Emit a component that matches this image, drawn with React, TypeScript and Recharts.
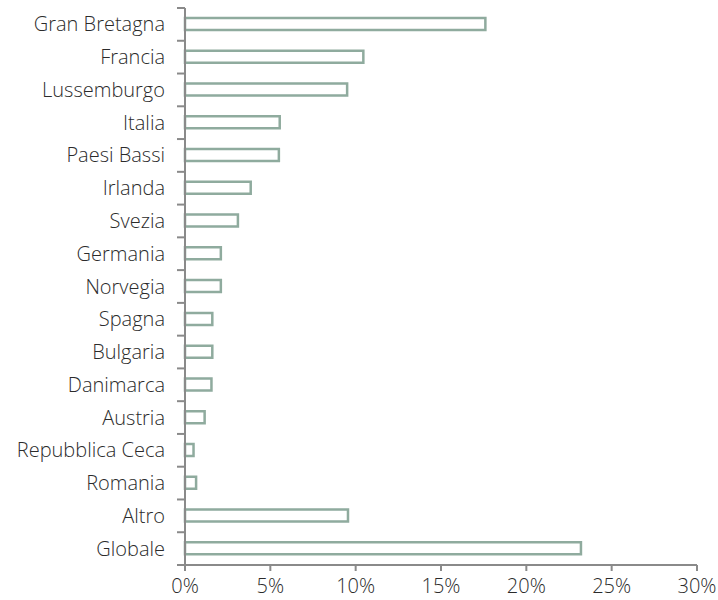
import React from 'react';
import { BarChart, Bar, XAxis, YAxis } from 'recharts';

// paesi in ordine dall'alto
const countries = [
  'Gran Bretagna',
  'Francia',
  'Lussemburgo',
  'Italia',
  'Paesi Bassi',
  'Irlanda',
  'Svezia',
  'Germania',
  'Norvegia',
  'Spagna',
  'Bulgaria',
  'Danimarca',
  'Austria',
  'Repubblica Ceca',
  'Romania',
  'Altro',
  'Globale',
];
const shares = [17.6, 10.45, 9.5, 5.55, 5.5, 3.85, 3.1, 2.1, 2.1, 1.6, 1.6, 1.55, 1.15, 0.5, 0.65, 9.55, 23.2];
const xTicks = [0, 5, 10, 15, 20, 25, 30];

const data = countries.map((name, i) => ({ name, value: shares[i] }));

const AXIS = '#8a8a8a';
const BAR = '#8fab9e';
const TEXT = '#2b2b2b';
const FONT = '"Open Sans", sans-serif';
const FONT_SIZE = 20;
const TOP = 8;
const X_AXIS_Y = 565;
const band = (X_AXIS_Y - TOP) / countries.length;

const CategoryTick = (props: any) => {
  const { x, y, payload, index } = props;
  const axisX = x + 8;
  return (
    <g>
      <line x1={axisX - 8} x2={axisX} y1={y - band / 2} y2={y - band / 2} stroke={AXIS} strokeWidth={2} />
      {index === countries.length - 1 && (
        <line x1={axisX - 8} x2={axisX} y1={y + band / 2} y2={y + band / 2} stroke={AXIS} strokeWidth={2} />
      )}
      <text
        x={axisX - 20}
        y={y}
        dy={7}
        textAnchor="end"
        fill={TEXT}
        fontSize={FONT_SIZE}
        fontWeight={300}
        fontFamily={FONT}
      >
        {payload.value}
      </text>
    </g>
  );
};

const PercentTick = (props: any) => {
  const { x, y, payload } = props;
  return (
    <text
      x={x}
      y={y}
      dy={20}
      textAnchor="middle"
      fill={TEXT}
      fontSize={FONT_SIZE}
      fontWeight={300}
      fontFamily={FONT}
    >
      {`${payload.value}%`}
    </text>
  );
};

export default function App() {
  return (
    <div>
      <style>{'body { margin: 0; } .recharts-surface { overflow: visible; }'}</style>
      <BarChart
        width={718}
        height={600}
        data={data}
        layout="vertical"
        margin={{ top: TOP, right: 21, left: 0, bottom: 0 }}
        barCategoryGap={0}
      >
        <XAxis
          type="number"
          domain={[0, 30]}
          ticks={xTicks}
          axisLine={{ stroke: AXIS, strokeWidth: 2 }}
          tickLine={{ stroke: AXIS, strokeWidth: 2 }}
          tickSize={6}
          tick={<PercentTick />}
          height={600 - X_AXIS_Y}
          interval={0}
        />
        <YAxis
          type="category"
          dataKey="name"
          width={185}
          axisLine={{ stroke: AXIS, strokeWidth: 2 }}
          tickLine={false}
          tick={<CategoryTick />}
          interval={0}
        />
        <Bar dataKey="value" barSize={12} fill="#ffffff" stroke={BAR} strokeWidth={2.5} isAnimationActive={false} />
      </BarChart>
    </div>
  );
}
